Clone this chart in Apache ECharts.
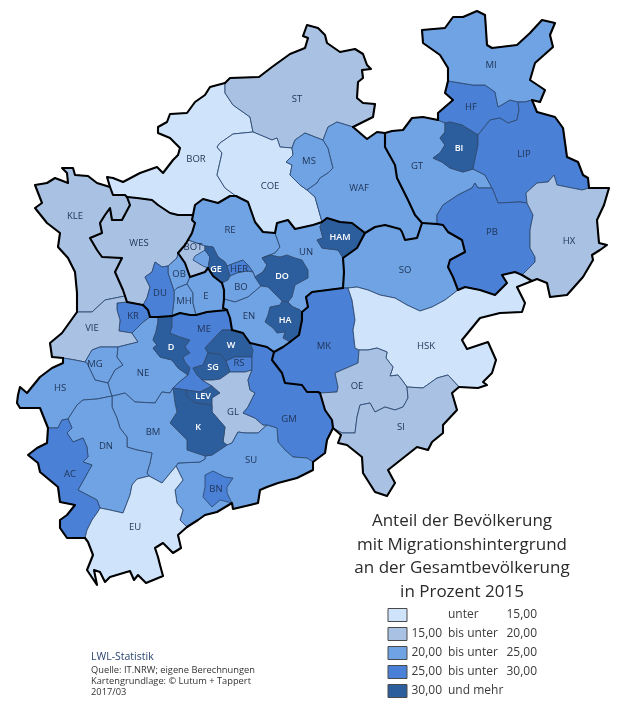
<!DOCTYPE html>
<html>
<head>
<meta charset="utf-8">
<title>Anteil der Bevölkerung mit Migrationshintergrund</title>
<script src="https://cdn.jsdelivr.net/npm/echarts@6/dist/echarts.min.js"></script>
<style>
html, body { margin: 0; padding: 0; background: #fff; }
#chart { width: 620px; height: 721px; }
</style>
</head>
<body>
<div id="chart"></div>
<script>
// Kreise und geschätzte Werte (nur die Klasse ist aus der Karte ablesbar)
var districts = ['BOR','ST','COE','MS','WAF','BOT','RE','GE','HER','BO','DO','UN','HAM','HA','EN','SO','MK','HSK','OE','SI',
    'GT','HF','BI','MI','LIP','PB','HX','KLE','WES','OB','MH','E','DU','KR','VIE','MG','HS','NE','D','ME','W','RS','SG','LEV','GL','GM','SU','BN','K','BM','DN','AC','EU'];
var shares = [13,18,14,23,22,18,24,32,27,24,31,23,31,31,24,22,28,13,18,18,
    23,28,32,23,27,28,18,18,19,24,24,24,28,27,19,24,23,23,32,27,32,27,31,31,19,27,22,27,33,24,22,27,13];

// Legende
var classLimits = [15, 20, 25, 30];
var classColors = ['#cfe3fa', '#a9c2e3', '#6fa3e4', '#4a80d6', '#2c5e9e'];
var legendFrom = ['', '15,00', '20,00', '25,00', '30,00'];
var legendMid = ['unter', 'bis unter', 'bis unter', 'bis unter', 'und mehr'];
var legendTo = ['15,00', '20,00', '25,00', '30,00', ''];

var titleLines = ['Anteil der Bevölkerung', 'mit Migrationshintergrund', 'an der Gesamtbevölkerung', 'in Prozent 2015'];
var sourceLines = ['Quelle: IT.NRW; eigene Berechnungen', 'Kartengrundlage: © Lutum + Tappert', '2017/03'];

// Grenzstücke in Bildpixeln, gemeinsame Grenzen nur einmal
var arcs = {
    o_ST: [[225,83],[230,78],[259,77],[272,67],[290,54],[305,48],[308,38],[303,36],[307,25],[318,28],[325,35],[327,43],[340,52],[355,49],[363,54],[367,65],[371,69],[362,70],[363,78],[358,82],[357,98],[363,103],[375,104],[373,117],[353,127]],
    o_WAF: [[353,127],[367,139],[377,132],[385,133]],
    o_GT: [[385,133],[392,131],[403,130],[412,118],[423,117],[438,120]],
    o_HF: [[438,120],[438,113],[453,100],[445,93],[448,81]],
    o_MI: [[448,81],[448,68],[440,55],[423,43],[422,30],[445,28],[453,17],[463,17],[477,11],[485,15],[487,45],[492,48],[517,45],[530,33],[542,20],[555,23],[550,35],[553,47],[535,63],[530,80],[545,90],[540,102],[532,100]],
    o_LIP: [[532,100],[537,112],[555,117],[563,128],[567,157],[578,162],[583,175],[588,178],[589,188]],
    o_HX: [[589,188],[609,188],[604,205],[597,220],[599,243],[607,245],[600,250],[592,255],[593,260],[583,277],[567,295],[550,297],[547,283],[537,279],[532,281]],
    o_HSK: [[532,281],[517,287],[525,303],[522,312],[500,313],[480,318],[462,340],[467,349],[488,342],[496,360],[492,373],[483,382],[487,385],[478,388],[459,387]],
    o_SI: [[459,387],[452,393],[457,410],[443,425],[443,433],[432,442],[428,450],[417,447],[388,470],[395,483],[387,496],[375,492],[363,473],[362,457],[347,445],[338,443],[341,435],[333,428]],
    o_GM: [[333,428],[327,440],[325,453],[313,462]],
    o_SU: [[313,462],[313,470],[297,478],[278,483],[267,487],[260,490],[258,503],[250,505],[233,509],[232,503],[217,512],[205,515],[198,520],[187,527]],
    o_EU: [[187,527],[178,535],[181,548],[173,553],[163,543],[155,548],[158,557],[160,565],[163,576],[146,583],[138,575],[134,580],[130,571],[110,577],[105,582],[100,572],[94,570],[97,585],[87,570],[93,555],[88,542],[85,538]],
    o_AC: [[85,538],[67,538],[60,528],[60,520],[67,515],[75,505],[60,502],[58,487],[40,472],[38,463],[28,455],[37,448],[47,443],[48,428]],
    o_HS: [[48,428],[40,408],[20,408],[17,403],[18,395],[20,387],[27,393],[40,377],[52,368],[63,363],[63,358]],
    o_VIE: [[63,358],[52,357],[50,343],[62,333],[77,312]],
    o_KLE: [[77,312],[77,293],[75,272],[68,258],[58,247],[60,233],[47,223],[35,208],[42,203],[35,185],[47,183],[55,178],[68,183],[67,173],[62,168],[73,168],[75,175],[88,176],[97,183],[110,187]],
    o_BOR: [[110,187],[107,177],[113,178],[123,182],[140,173],[157,167],[163,173],[173,160],[178,155],[180,148],[170,138],[158,133],[158,127],[167,122],[170,114],[187,113],[195,102],[205,95],[210,87],[225,83]],

    BOR_KLE: [[127,197],[125,195],[113,195],[110,187]],
    BOR_ST: [[225,83],[225,93],[233,105],[250,117],[253,132]],
    BOR_COE: [[253,132],[233,134],[220,143],[217,147],[222,153],[217,175],[225,188],[236,196]],
    BOR_RE: [[236,196],[230,196],[218,203],[203,199],[195,205],[193,215]],
    BOR_WES: [[193,215],[178,215],[170,213],[158,205],[152,200],[137,198],[127,197]],
    ST_COE: [[253,132],[265,137],[272,140],[277,138],[280,147],[292,148]],
    ST_MS: [[292,148],[295,140],[305,133],[315,137],[323,140]],
    ST_WAF: [[323,140],[328,127],[337,122],[353,127]],
    MS_COE: [[292,148],[293,155],[286,162],[292,165],[290,175],[300,185],[307,190]],
    MS_WAF: [[323,140],[328,148],[333,168],[328,173],[320,178],[317,183],[307,190]],
    COE_WAF: [[307,190],[315,197],[322,222]],
    COE_RE: [[236,196],[248,202],[255,222],[263,232],[275,233]],
    COE_UN: [[275,233],[277,223],[288,220],[295,229],[313,225],[322,222]],
    WAF_HAM: [[322,222],[327,218],[340,222],[352,223],[365,233]],
    WAF_SO: [[365,233],[375,227],[385,225],[400,229],[402,232],[405,240],[417,238],[422,223]],
    WAF_GT: [[385,133],[385,147],[395,165],[397,178],[408,200],[415,215],[422,223]],
    GT_SO: [[422,223],[437,224]],
    PB_SO: [[437,224],[443,225],[448,232],[462,240],[465,252],[450,260],[448,267],[453,277],[458,290]],
    PB_HSK: [[458,290],[465,287],[480,290],[495,295],[507,283],[502,275],[515,272],[522,275]],
    HSK_HX: [[522,275],[532,281]],
    PB_HX: [[522,275],[535,262],[535,257],[530,248],[530,230],[533,215],[527,203]],
    HX_LIP: [[527,203],[526,193],[537,183],[548,182],[554,175],[557,185],[567,187],[582,190],[589,188]],
    PB_LIP: [[527,203],[520,202],[498,203],[493,190],[492,188]],
    GT_PB: [[492,188],[478,188],[475,183],[472,188],[458,195],[443,205],[437,215],[437,224]],
    GT_LIP: [[492,188],[485,175],[473,169]],
    BI_LIP: [[478,135],[478,145],[473,169]],
    BI_GT: [[473,169],[463,172],[450,168],[442,162],[433,158],[440,153],[445,145],[440,138],[445,132],[445,123]],
    BI_HF: [[445,123],[450,122],[462,125],[470,130],[478,135]],
    HF_GT: [[438,120],[445,123]],
    HF_LIP: [[478,135],[490,120],[500,118],[508,123],[517,120],[519,110],[518,102]],
    MI_HF: [[448,81],[473,85],[485,85],[495,92],[498,107],[510,100],[518,102]],
    MI_LIP: [[518,102],[525,102],[532,100]],

    HAM_UN: [[322,222],[320,227],[323,238],[317,240],[322,248],[338,250],[343,258]],
    HAM_SO: [[365,233],[357,248],[343,258]],
    UN_SO: [[343,258],[344,272],[343,288]],
    SO_MK: [[343,288],[348,288]],
    SO_HSK: [[348,288],[357,287],[368,290],[380,295],[395,298],[407,305],[420,311],[432,307],[445,300],[458,290]],
    MK_HSK: [[348,288],[352,300],[355,320],[353,330],[355,348],[359,350]],
    HSK_OE: [[359,350],[368,350],[377,348],[387,352],[386,358],[393,367],[390,376],[398,375],[402,380],[407,387]],
    HSK_SI: [[407,387],[423,388],[437,378],[448,375],[459,387]],
    OE_SI: [[407,387],[408,398],[403,407],[395,410],[385,407],[375,412],[370,403],[360,405],[357,417],[355,433],[342,433],[333,428]],
    MK_OE: [[359,350],[358,363],[335,373],[338,387],[337,392],[320,393]],
    OE_GM: [[320,393],[325,410],[332,420],[333,428]],
    MK_GM: [[320,393],[318,392],[307,392],[302,385],[285,383],[282,373],[272,360],[274,352]],
    UN_MK: [[343,288],[312,292],[306,297],[308,307],[302,312]],
    HA_MK: [[302,312],[302,320],[299,335],[290,342]],
    EN_MK: [[290,342],[283,347],[274,352]],
    EN_GM: [[274,352],[267,347],[250,343]],
    HA_UN: [[302,312],[300,310],[293,307],[288,302]],
    DO_HA: [[288,302],[282,301]],
    HA_EN: [[282,301],[280,305],[270,307],[268,315],[265,322],[273,328],[277,333],[285,332],[283,338],[290,342]],
    DO_EN: [[282,301],[273,292],[268,287],[261,286]],
    DO_UN: [[262,258],[270,255],[280,257],[287,255],[295,258],[302,260],[308,270],[308,278],[295,285],[292,297],[288,302]],
    RE_DO: [[262,258],[267,265],[263,272],[255,277]],
    RE_UN: [[275,233],[280,247],[275,253],[262,258]],
    DO_BO: [[255,277],[261,286]],
    BO_EN: [[261,286],[248,297],[235,302],[224,299]],
    RE_BO: [[255,277],[253,272]],
    RE_HER: [[253,272],[248,265],[243,260],[227,266]],
    HER_BO: [[253,272],[247,271],[237,273],[230,276]],
    GE_HER: [[227,266],[230,276]],
    GE_BO: [[230,276],[228,280],[222,283]],
    RE_GE: [[227,266],[225,262],[218,257],[213,247],[205,246]],
    E_BO: [[222,283],[224,290],[224,299]],
    GE_E: [[222,283],[213,276],[208,268]],
    BOT_GE: [[205,246],[205,250],[210,257],[208,268]],
    RE_BOT: [[205,246],[197,243],[188,240]],
    WES_RE: [[193,215],[192,220],[195,223],[192,233],[188,240]],
    WES_BOT: [[188,240],[185,245],[178,253]],
    BOT_E: [[208,268],[205,272],[190,277]],
    BOT_OB: [[190,277],[185,263],[178,253]],
    WES_OB: [[178,253],[177,258],[168,266]],
    OB_DU: [[168,266],[168,273],[174,291]],
    MH_OB: [[174,291],[177,288],[187,284]],
    E_OB: [[187,284],[190,277]],
    MH_E: [[187,284],[193,293],[193,303],[196,315]],
    MH_DU: [[174,291],[174,300],[172,316]],
    MH_ME: [[172,316],[180,313],[190,315],[196,315]],
    E_ME: [[196,315],[207,312],[227,310]],
    E_EN: [[224,299],[223,308],[227,310]],
    EN_ME: [[227,310],[230,318],[232,330]],
    EN_W: [[232,330],[243,333],[250,343]],
    WES_DU: [[168,266],[162,267],[155,262],[152,272],[145,277],[150,287],[147,298],[143,305]],
    WES_KR: [[143,305],[127,302]],
    WES_VIE: [[127,302],[125,296]],
    KLE_WES: [[127,197],[130,205],[122,220],[112,220],[110,208],[105,215],[100,223],[102,233],[90,238],[97,250],[102,257],[122,258],[115,272],[123,290],[125,296]],
    KLE_VIE: [[125,296],[105,300],[92,312],[77,312]],
    DU_KR: [[143,305],[148,310],[150,317]],
    DU_NE: [[150,317],[158,317]],
    DU_D: [[158,317],[172,316]],
    KR_NE: [[150,317],[142,323],[132,333]],
    KR_VIE: [[132,333],[119,331],[120,320],[117,310],[117,303],[127,302]],
    VIE_NE: [[132,333],[138,342],[118,347]],
    MG_VIE: [[118,347],[100,347],[92,350],[85,362]],
    HS_VIE: [[85,362],[75,360],[63,358]],
    MG_NE: [[118,347],[117,357],[123,365],[115,370],[108,383]],
    HS_MG: [[108,383],[95,380],[87,363],[85,362]],
    HS_NE: [[108,383],[110,390],[112,396]],
    HS_DN: [[112,396],[97,399],[83,400],[77,405],[68,419]],
    HS_AC: [[68,419],[62,420],[58,428],[48,428]],
    DN_AC: [[68,419],[72,428],[67,433],[73,442],[83,438],[87,447],[88,457],[83,462],[92,465],[88,472],[78,490],[97,500],[100,508]],
    AC_EU: [[100,508],[97,513],[92,520],[87,530],[85,538]],
    DN_EU: [[149,476],[137,479],[132,485],[130,495],[123,513],[110,510],[100,508]],
    DN_BM: [[112,396],[112,407],[117,418],[120,428],[127,437],[127,447],[137,450],[152,453],[150,463],[147,473],[149,476]],
    BM_EU: [[149,476],[162,483],[176,466]],
    SU_EU: [[176,466],[183,480],[175,490],[177,503],[183,510],[180,520],[187,527]],
    BM_SU: [[176,466],[178,463],[200,462],[205,459],[205,456]],
    BM_K: [[205,456],[193,452],[187,450],[187,440],[170,423],[177,412],[175,403],[173,388]],
    BM_NE: [[173,388],[170,393],[162,392],[155,403],[135,402],[125,393],[117,395],[112,396]],
    NE_D: [[158,317],[158,322],[156,332],[153,340],[157,345],[153,348],[160,357],[172,360],[178,368],[188,375]],
    D_ME: [[172,316],[172,327],[170,333],[180,337],[190,340],[185,347],[190,353],[183,357],[185,362],[190,368],[188,375]],
    NE_ME: [[188,375],[178,383],[173,388]],
    ME_K: [[173,388],[186,390]],
    ME_LEV: [[186,390],[200,392],[212,386]],
    ME_GL: [[212,386],[202,380]],
    ME_SG: [[202,380],[197,375],[193,368],[203,365],[208,353]],
    ME_W: [[208,353],[205,348],[222,330],[232,330]],
    W_SG: [[208,353],[220,354],[226,361]],
    W_RS: [[226,361],[235,357],[252,357]],
    W_GM: [[250,343],[253,350],[252,357]],
    RS_GM: [[252,357],[252,370]],
    RS_GL: [[252,370],[245,372],[230,372]],
    RS_SG: [[230,372],[226,361]],
    SG_GL: [[230,372],[220,379],[213,380],[202,380]],
    LEV_GL: [[212,386],[220,393],[212,398],[212,405]],
    LEV_K: [[212,405],[195,403],[187,397],[186,390]],
    K_GL: [[212,405],[212,412],[225,427],[223,442],[227,445]],
    K_SU: [[227,445],[212,455],[205,456]],
    GL_SU: [[227,445],[232,443],[238,432],[245,433],[258,433],[267,425]],
    GL_GM: [[267,425],[263,425],[255,418],[243,413],[248,407],[255,393],[250,390],[248,380],[252,370]],
    GM_SU: [[267,425],[277,428],[278,442],[285,450],[293,457],[307,458],[313,462]],
    BN_SU: [[205,475],[213,471],[225,477],[233,478],[227,487],[227,493],[232,503],[220,500],[212,507],[203,497],[205,487],[205,475]]
};

// Kleiner Gladbecker Zipfel von RE liegt im Gebiet von BOT
var reLobe = [[205,250],[210,257],[208,268],[203,266],[193,260],[195,256],[205,250]];

var rings = {
    BOR: ['o_BOR','BOR_ST','BOR_COE','BOR_RE','BOR_WES','BOR_KLE'],
    ST: ['o_ST','ST_WAF','ST_MS','ST_COE','BOR_ST'],
    COE: ['BOR_COE','ST_COE','MS_COE','COE_WAF','COE_UN','COE_RE'],
    MS: ['ST_MS','MS_WAF','MS_COE'],
    WAF: ['o_WAF','WAF_GT','WAF_SO','WAF_HAM','COE_WAF','MS_WAF','ST_WAF'],
    BOT: ['RE_BOT','BOT_GE','BOT_E','BOT_OB','WES_BOT'],
    RE: ['BOR_RE','COE_RE','RE_UN','RE_DO','RE_BO','RE_HER','RE_GE','RE_BOT','WES_RE'],
    GE: ['RE_GE','GE_HER','GE_BO','GE_E','BOT_GE'],
    HER: ['RE_HER','HER_BO','GE_HER'],
    BO: ['RE_BO','DO_BO','BO_EN','E_BO','GE_BO','HER_BO'],
    DO: ['RE_DO','DO_UN','DO_HA','DO_EN','DO_BO'],
    UN: ['COE_UN','HAM_UN','UN_SO','UN_MK','HA_UN','DO_UN','RE_UN'],
    HAM: ['WAF_HAM','HAM_SO','HAM_UN'],
    HA: ['HA_UN','HA_MK','HA_EN','DO_HA'],
    EN: ['DO_EN','HA_EN','EN_MK','EN_GM','EN_W','EN_ME','E_EN','BO_EN'],
    SO: ['WAF_SO','GT_SO','PB_SO','SO_HSK','SO_MK','UN_SO','HAM_SO'],
    MK: ['SO_MK','MK_HSK','MK_OE','MK_GM','EN_MK','HA_MK','UN_MK'],
    HSK: ['SO_HSK','PB_HSK','HSK_HX','o_HSK','HSK_SI','HSK_OE','MK_HSK'],
    OE: ['HSK_OE','OE_SI','OE_GM','MK_OE'],
    SI: ['HSK_SI','o_SI','OE_SI'],
    GT: ['o_GT','HF_GT','BI_GT','GT_LIP','GT_PB','GT_SO','WAF_GT'],
    HF: ['o_HF','MI_HF','HF_LIP','BI_HF','HF_GT'],
    BI: ['BI_HF','BI_LIP','BI_GT'],
    MI: ['o_MI','MI_LIP','MI_HF'],
    LIP: ['MI_LIP','o_LIP','HX_LIP','PB_LIP','GT_LIP','BI_LIP','HF_LIP'],
    PB: ['GT_PB','PB_LIP','PB_HX','PB_HSK','PB_SO'],
    HX: ['HX_LIP','o_HX','HSK_HX','PB_HX'],
    KLE: ['o_KLE','BOR_KLE','KLE_WES','KLE_VIE'],
    WES: ['BOR_WES','WES_RE','WES_BOT','WES_OB','WES_DU','WES_KR','WES_VIE','KLE_WES'],
    OB: ['WES_OB','OB_DU','MH_OB','E_OB','BOT_OB'],
    MH: ['MH_OB','MH_DU','MH_ME','MH_E'],
    E: ['BOT_E','GE_E','E_BO','E_EN','E_ME','MH_E','E_OB'],
    DU: ['WES_DU','DU_KR','DU_NE','DU_D','MH_DU','OB_DU'],
    KR: ['WES_KR','DU_KR','KR_NE','KR_VIE'],
    VIE: ['o_VIE','KLE_VIE','WES_VIE','KR_VIE','VIE_NE','MG_VIE','HS_VIE'],
    MG: ['MG_VIE','MG_NE','HS_MG'],
    HS: ['o_HS','HS_VIE','HS_MG','HS_NE','HS_DN','HS_AC'],
    NE: ['VIE_NE','KR_NE','DU_NE','NE_D','NE_ME','BM_NE','HS_NE','MG_NE'],
    D: ['DU_D','D_ME','NE_D'],
    ME: ['MH_ME','E_ME','EN_ME','ME_W','ME_SG','ME_GL','ME_LEV','ME_K','NE_ME','D_ME'],
    W: ['EN_W','W_GM','W_RS','W_SG','ME_W'],
    RS: ['W_RS','RS_GM','RS_GL','RS_SG'],
    SG: ['W_SG','RS_SG','SG_GL','ME_SG'],
    LEV: ['ME_LEV','LEV_GL','LEV_K'],
    GL: ['ME_GL','SG_GL','RS_GL','GL_GM','GL_SU','K_GL','LEV_GL'],
    GM: ['EN_GM','MK_GM','OE_GM','o_GM','GM_SU','GL_GM','RS_GM','W_GM'],
    SU: ['GM_SU','o_SU','SU_EU','BM_SU','K_SU','GL_SU'],
    BN: ['BN_SU'],
    K: ['ME_K','LEV_K','K_GL','K_SU','BM_K'],
    BM: ['BM_NE','DN_BM','BM_EU','BM_SU','BM_K'],
    DN: ['HS_DN','DN_BM','DN_EU','DN_AC'],
    AC: ['HS_AC','o_AC','AC_EU','DN_AC'],
    EU: ['AC_EU','DN_EU','BM_EU','SU_EU','o_EU']
};

// dicke Linien: Außengrenze, Ruhrgebiet, Landesteile
var thickArcs = ['BOR_KLE','BOR_RE','BOR_WES','COE_RE','COE_UN','WAF_HAM','WAF_SO','WAF_GT','GT_SO','PB_SO','PB_HSK','HSK_HX',
    'HAM_SO','UN_SO','UN_MK','HA_MK','EN_MK','MK_GM','OE_GM','EN_GM','EN_W','EN_ME','E_EN','E_BO','GE_E','BOT_E','BOT_OB',
    'WES_BOT','WES_RE','KLE_WES','WES_VIE','WES_KR','DU_KR','DU_NE','DU_D','MH_ME','E_ME'];

var labelAt = {
    MI:[491,65],ST:[297,99],HF:[471,107],BI:[459,148],GT:[417,166],LIP:[524,154],BOR:[196,159],MS:[309,161],COE:[270,186],WAF:[359,188],
    KLE:[75,216],HX:[569,241],WES:[139,243],RE:[230,230],PB:[492,232],BOT:[193,247],HAM:[340,237],UN:[306,252],SO:[405,270],GE:[216,269],
    HER:[239,269],DO:[282,276],OB:[179,274],DU:[160,293],BO:[241,287],E:[206,296],MH:[184,301],VIE:[92,328],KR:[133,316],EN:[249,316],
    HA:[285,320],ME:[204,329],D:[171,347],W:[231,345],MK:[324,346],HSK:[426,346],MG:[95,364],NE:[143,373],RS:[239,363],SG:[213,367],
    HS:[60,388],OE:[357,386],LEV:[203,396],GL:[233,412],GM:[289,419],SI:[401,427],K:[198,427],DN:[106,446],BM:[153,432],AC:[70,474],
    SU:[251,460],BN:[216,489],EU:[135,527]
};

// Bildpixel nach Kartenkoordinaten (y nach oben)
function flip(p) { return [p[0], -p[1]]; }

function sameDist(a, b) { return Math.abs(a[0] - b[0]) + Math.abs(a[1] - b[1]); }

// Grenzstücke zu einem geschlossenen Ring verketten, Richtung wird aus den Endpunkten bestimmt
function buildRing(names) {
    var ring = [];
    names.forEach(function (name, i) {
        var pts = arcs[name].slice();
        if (i === 0) {
            var nextPts = names[1] ? arcs[names[1]] : null;
            if (nextPts) {
                var end = pts[pts.length - 1];
                var start = pts[0];
                var dEnd = Math.min(sameDist(end, nextPts[0]), sameDist(end, nextPts[nextPts.length - 1]));
                var dStart = Math.min(sameDist(start, nextPts[0]), sameDist(start, nextPts[nextPts.length - 1]));
                if (dStart < dEnd) { pts.reverse(); }
            }
        } else {
            var last = ring[ring.length - 1];
            if (sameDist(last, pts[pts.length - 1]) < sameDist(last, pts[0])) { pts.reverse(); }
        }
        ring = ring.concat(pts);
    });
    ring.push(ring[0]);
    return ring.map(flip);
}

var geoJson = {
    type: 'FeatureCollection',
    features: districts.map(function (name) {
        var polys = [[buildRing(rings[name])]];
        if (name === 'RE') { polys.push([reLobe.map(flip)]); }
        return {
            type: 'Feature',
            properties: { name: name, cp: flip(labelAt[name]) },
            geometry: { type: 'MultiPolygon', coordinates: polys }
        };
    })
};

echarts.registerMap('nrw', geoJson);

var shareData = districts.map(function (name, i) { return { name: name, value: shares[i] }; });

// weiße Schrift auf der dunkelsten Klasse
var regionLabels = districts.map(function (name, i) {
    var dark = shares[i] >= classLimits[3];
    return { name: name, label: { color: dark ? '#fff' : '#1f3355', fontWeight: dark ? 600 : 'normal', fontSize: dark ? 9 : 9.5 } };
});

var thickLines = Object.keys(arcs).filter(function (k) {
    return k.indexOf('o_') === 0 || thickArcs.indexOf(k) >= 0;
}).map(function (k) {
    return { coords: arcs[k].map(flip) };
});

// Titel, Legende und Quelle
var graphics = [];
titleLines.forEach(function (t, i) {
    graphics.push({ type: 'text', x: 462, y: 521 + i * 23.7, silent: true,
        style: { text: t, fill: '#2b2b2b', font: '17px "Open Sans"', textAlign: 'center', textVerticalAlign: 'middle' } });
});
classColors.forEach(function (c, i) {
    var y = 615 + i * 19;
    graphics.push({ type: 'rect', shape: { x: 388, y: y - 6.5, width: 19, height: 13 }, silent: true,
        style: { fill: c, stroke: '#4a4a4a', lineWidth: 1 } });
    var font = '12px "Open Sans"';
    graphics.push({ type: 'text', x: 442, y: y, silent: true, style: { text: legendFrom[i], fill: '#3a3a3a', font: font, textAlign: 'right', textVerticalAlign: 'middle' } });
    graphics.push({ type: 'text', x: 448, y: y, silent: true, style: { text: legendMid[i], fill: '#3a3a3a', font: font, textAlign: 'left', textVerticalAlign: 'middle' } });
    graphics.push({ type: 'text', x: 537, y: y, silent: true, style: { text: legendTo[i], fill: '#3a3a3a', font: font, textAlign: 'right', textVerticalAlign: 'middle' } });
});
graphics.push({ type: 'text', x: 91, y: 657, silent: true,
    style: { text: 'LWL-Statistik', fill: '#2a4470', font: '10.5px "Open Sans"', textVerticalAlign: 'middle' } });
sourceLines.forEach(function (t, i) {
    graphics.push({ type: 'text', x: 91, y: 670.5 + i * 11, silent: true,
        style: { text: t, fill: '#333', font: '9.3px "Open Sans"', textVerticalAlign: 'middle' } });
});

var chart = echarts.init(document.getElementById('chart'), null, { renderer: 'canvas' });
chart.setOption({
    animation: false,
    backgroundColor: '#fff',
    visualMap: {
        type: 'piecewise',
        show: false,
        seriesIndex: 0,
        pieces: [
            { lt: classLimits[0], color: classColors[0] },
            { gte: classLimits[0], lt: classLimits[1], color: classColors[1] },
            { gte: classLimits[1], lt: classLimits[2], color: classColors[2] },
            { gte: classLimits[2], lt: classLimits[3], color: classColors[3] },
            { gte: classLimits[3], color: classColors[4] }
        ]
    },
    geo: {
        map: 'nrw',
        roam: false,
        silent: true,
        aspectScale: 1,
        boundingCoords: [[0, 0], [620, -721]],
        left: 0,
        top: 0,
        width: 620,
        height: 721,
        label: { show: true, fontFamily: '"Open Sans"', fontSize: 9.5, color: '#1f3355' },
        itemStyle: { areaColor: '#fff', borderColor: '#2f4c74', borderWidth: 0.9 },
        regions: regionLabels
    },
    series: [
        { type: 'map', geoIndex: 0, data: shareData },
        {
            type: 'lines',
            coordinateSystem: 'geo',
            polyline: true,
            silent: true,
            lineStyle: { color: '#000', width: 2.1, opacity: 1, curveness: 0, join: 'round', cap: 'round' },
            data: thickLines
        }
    ],
    graphic: graphics
});
</script>
</body>
</html>
